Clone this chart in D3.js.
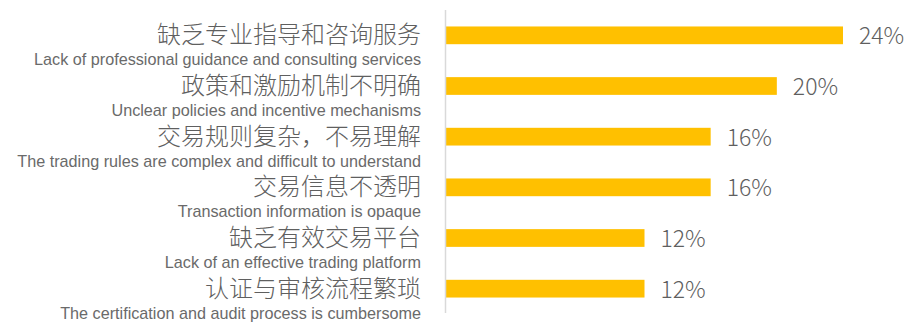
<!DOCTYPE html>
<html>
<head>
<meta charset="utf-8">
<script src="https://cdn.jsdelivr.net/npm/d3@7"></script>
<style>
  html, body { margin: 0; padding: 0; background: #ffffff; }
  svg { display: block; }
</style>
</head>
<body>
<svg id="chart" width="905" height="323"></svg>
<script>
// Survey results: main obstacles (share of respondents)
const labelsZh = [
  "缺乏专业指导和咨询服务",
  "政策和激励机制不明确",
  "交易规则复杂，不易理解",
  "交易信息不透明",
  "缺乏有效交易平台",
  "认证与审核流程繁琐"
];
const labelsEn = [
  "Lack of professional guidance and consulting services",
  "Unclear policies and incentive mechanisms",
  "The trading rules are complex and difficult to understand",
  "Transaction information is opaque",
  "Lack of an effective trading platform",
  "The certification and audit process is cumbersome"
];
const values = [24, 20, 16, 16, 12, 12];

const svg = d3.select("#chart");
const axisX = 446;
const plotTop = 10, plotBottom = 314;

const y = d3.scaleBand()
  .domain(d3.range(values.length))
  .range([plotTop, plotBottom])
  .paddingInner(0.65)
  .paddingOuter(0.325);

const x = d3.scaleLinear()
  .domain([0, 24])
  .range([axisX, axisX + 397]);

const zhFont = "'Noto Sans CJK SC', 'Noto Sans', sans-serif";
const enFont = "'Liberation Sans', Arial, sans-serif";
const textColor = "#5f5f5f";

// bars
svg.append("g").selectAll("rect")
  .data(values)
  .join("rect")
  .attr("x", x(0))
  .attr("y", (d, i) => y(i))
  .attr("width", d => x(d) - x(0))
  .attr("height", y.bandwidth())
  .attr("fill", "#FFC000");

// vertical category axis line
svg.append("line")
  .attr("x1", axisX - 0.5).attr("x2", axisX - 0.5)
  .attr("y1", plotTop).attr("y2", plotBottom - 1)
  .attr("stroke", "#d9d9d9")
  .attr("stroke-width", 1.5);

// value labels
svg.append("g").selectAll("text")
  .data(values)
  .join("text")
  .attr("x", d => x(d) + 16)
  .attr("y", (d, i) => y(i) + y.bandwidth() / 2 + 9)
  .attr("font-family", zhFont)
  .attr("font-weight", 300)
  .attr("font-size", 23)
  .attr("fill", textColor)
  .text(d => d + "%");

// category labels: Chinese line and English subtitle
const cats = svg.append("g").selectAll("g")
  .data(d3.range(values.length))
  .join("g");

cats.append("text")
  .attr("x", 421)
  .attr("y", i => y(i) + y.bandwidth() / 2 + 8)
  .attr("text-anchor", "end")
  .attr("font-family", zhFont)
  .attr("font-weight", 300)
  .attr("font-size", 24)
  .attr("fill", textColor)
  .text(i => labelsZh[i]);

cats.append("text")
  .attr("x", 421)
  .attr("y", i => y(i) + y.bandwidth() / 2 + 30)
  .attr("text-anchor", "end")
  .attr("font-family", enFont)
  .attr("font-size", 16.2)
  .attr("fill", "#6a6a6a")
  .text(i => labelsEn[i]);
</script>
</body>
</html>
